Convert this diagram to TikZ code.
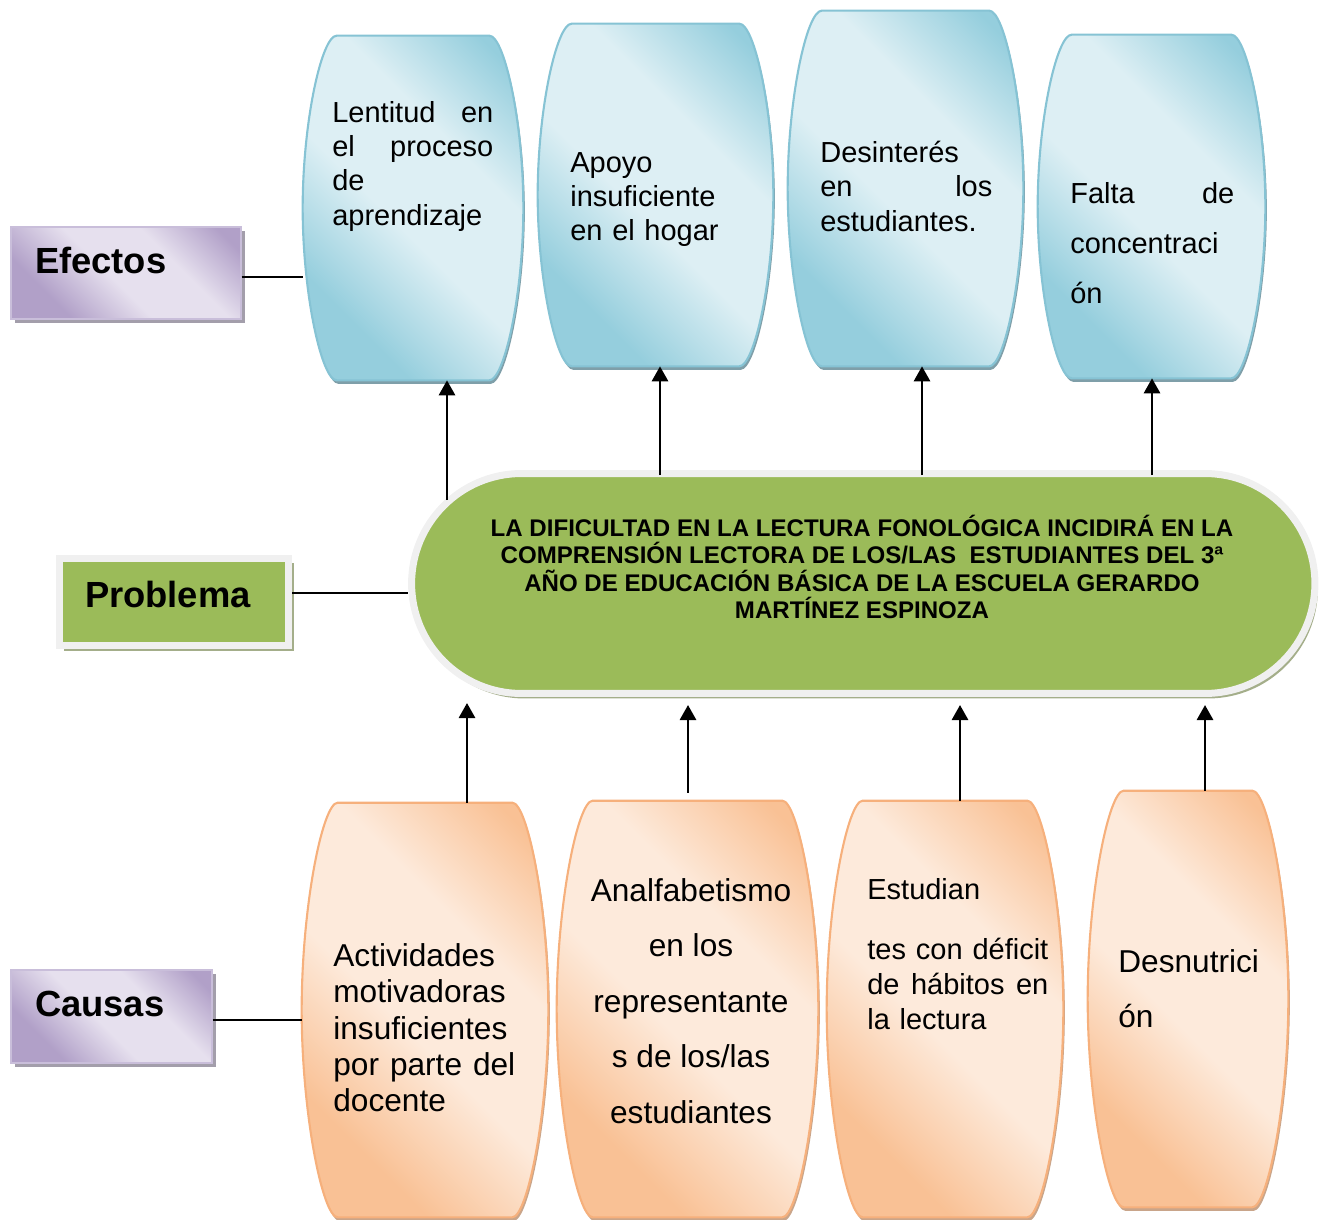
\documentclass[tikz,border=0pt]{standalone}
\usepackage{fontspec}
\setmainfont{Liberation Sans}
\usetikzlibrary{arrows.meta, calc, shadows}
\definecolor{eflight}{HTML}{DDEFF4}
\definecolor{efdark}{HTML}{95CEDD}
\definecolor{efedge}{HTML}{86C3D4}
\definecolor{efshadow}{HTML}{7F9FA9}
\definecolor{calight}{HTML}{FDEADB}
\definecolor{cadark}{HTML}{F9C195}
\definecolor{caedge}{HTML}{F6B07C}
\definecolor{cashadow}{HTML}{C9A58A}
\definecolor{lbllight}{HTML}{E6E0EE}
\definecolor{lbldark}{HTML}{B1A0C8}
\definecolor{lbledge}{HTML}{C9BEDA}
\definecolor{lblshadow}{HTML}{A39EAB}
\definecolor{pbgreen}{HTML}{9BBB59}
\definecolor{pbrim}{HTML}{F0F0F0}
\definecolor{pbshadow}{HTML}{A4AE8A}

\pgfdeclarehorizontalshading{efshade}{100bp}{color(0bp)=(efdark); color(28bp)=(efdark); color(46bp)=(eflight); color(63bp)=(eflight); color(80bp)=(efdark); color(100bp)=(efdark)}
\pgfdeclarehorizontalshading{cashade}{100bp}{color(0bp)=(cadark); color(28bp)=(cadark); color(46bp)=(calight); color(63bp)=(calight); color(80bp)=(cadark); color(100bp)=(cadark)}
\pgfdeclarehorizontalshading{lblshade}{100bp}{color(0bp)=(lbldark); color(28bp)=(lbldark); color(46bp)=(lbllight); color(63bp)=(lbllight); color(80bp)=(lbldark); color(100bp)=(lbldark)}

% barrel outline round an empty node: #1 node, #2 inset of the flat ends, #3 style
\newcommand\barrel[3]{%
  \path[#3] ($(#1.north west)+(#2,0)$) -- ($(#1.north east)+(-#2,0)$)
    .. controls ($(#1.north east)+(-#2+15,0)$) and ($(#1.north east)!0.5!(#1.east)$) .. (#1.east)
    .. controls ($(#1.south east)!0.5!(#1.east)$) and ($(#1.south east)+(-#2+15,0)$) .. ($(#1.south east)+(-#2,0)$)
    -- ($(#1.south west)+(#2,0)$)
    .. controls ($(#1.south west)+(#2-15,0)$) and ($(#1.south west)!0.5!(#1.west)$) .. (#1.west)
    .. controls ($(#1.north west)!0.5!(#1.west)$) and ($(#1.north west)+(#2-15,0)$) .. ($(#1.north west)+(#2,0)$) -- cycle;}

\begin{document}
\begin{tikzpicture}[x=0.02cm, y=-0.02cm,
  box/.style={rectangle, inner sep=0pt},
  efshape/.style={shading=efshade, shading angle=45, draw=efedge, line width=1.2pt, line join=round,
    drop shadow={shadow xshift=0.03cm, shadow yshift=-0.07cm, fill=efshadow, opacity=1}},
  cashape/.style={shading=cashade, shading angle=45, draw=caedge, line width=1.2pt, line join=round,
    drop shadow={shadow xshift=0.03cm, shadow yshift=-0.07cm, fill=cashadow, opacity=1}},
  eftxt/.style={inner sep=0pt, anchor=north west, align=left, font=\fontsize{16.5}{19.5}\selectfont},
  catxt/.style={inner sep=0pt, anchor=north west, align=left, font=\fontsize{18}{20.7}\selectfont},
  lbl/.style={rectangle, shading=lblshade, shading angle=45, draw=lbledge, line width=0.6pt,
    inner xsep=0.48cm, inner ysep=0pt, align=left, font=\fontsize{20.7}{24}\selectfont\bfseries,
    drop shadow={shadow xshift=0.08cm, shadow yshift=-0.08cm, fill=lblshadow, opacity=1}},
  lblgreen/.style={rectangle, fill=pbgreen, draw=pbrim, line width=0.14cm,
    inner xsep=0.52cm, inner ysep=0pt, align=left, font=\fontsize{20.7}{24}\selectfont\bfseries,
    drop shadow={shadow xshift=0.1cm, shadow yshift=-0.1cm, fill=pbshadow, opacity=1}},
  prob/.style={rectangle, rounded corners=2.2cm, fill=pbgreen, draw=pbrim, line width=0.14cm,
    minimum width=18.07cm, minimum height=4.4cm,
    drop shadow={shadow xshift=0.06cm, shadow yshift=-0.1cm, fill=pbshadow, opacity=1}},
  arr/.style={-{Triangle[length=0.3cm, width=0.32cm]}, line width=1.6pt},
  link/.style={line width=1.4pt},
]
\path[use as bounding box] (0,0) rectangle (1327,1219);

% Effects
\node[box, minimum width=4.4cm, minimum height=6.88cm] (e1) at (413,208) {};
\node[box, minimum width=4.7cm, minimum height=6.84cm] (e2) at (655.5,195) {};
\node[box, minimum width=4.7cm, minimum height=7.1cm] (e3) at (905.5,188.5) {};
\node[box, minimum width=4.54cm, minimum height=6.86cm] (e4) at (1151.5,206.5) {};
\foreach \e in {e1,e2,e3,e4} {\barrel{\e}{34}{efshape}}

\node[eftxt, text width=3.22cm] (e1t) at (332,101) {Lentitud \hfill en\\el \hfill proceso\\de\\aprendizaje};
\node[eftxt, text width=3.2cm] (e2t) at (570,152) {Apoyo\\insuficiente\\en el hogar};
\node[eftxt, text width=3.44cm] (e3t) at (820,141) {Desinterés\\en \hfill los\\estudiantes.};
\node[eftxt, text width=3.28cm, font=\fontsize{16.5}{28.4}\selectfont] (e4t) at (1070,182) {Falta \hfill de\\concentraci\\ón};

% Problem
\node[prob] (problem) at (863.25,583.5) {};
\node[align=center, inner sep=0pt, font=\fontsize{13.7}{15.6}\selectfont\bfseries] (probtxt) at (862,567)
  {LA DIFICULTAD EN LA LECTURA FONOLÓGICA INCIDIRÁ EN LA\\
   COMPRENSIÓN LECTORA DE LOS/LAS \ ESTUDIANTES DEL 3ª\\
   AÑO DE EDUCACIÓN BÁSICA DE LA ESCUELA GERARDO\\
   MARTÍNEZ ESPINOZA};

% Causes
\node[box, minimum width=4.92cm, minimum height=8.28cm] (c1) at (425,1010) {};
\node[box, minimum width=5.22cm, minimum height=8.32cm] (c2) at (687.5,1009) {};
\node[box, minimum width=4.72cm, minimum height=8.32cm] (c3) at (945,1009) {};
\node[box, minimum width=4.0cm, minimum height=8.32cm] (c4) at (1188,999) {};
\foreach \c in {c1,c2,c3,c4} {\barrel{\c}{36}{cashape}}

\node[catxt, text width=3.64cm] (c1t) at (333,943) {Actividades\\motivadoras\\insuficientes\\por \hfill parte \hfill del\\docente};
\node[catxt, anchor=north, align=center, font=\fontsize{18}{31.6}\selectfont] (c2t) at (691,878) {Analfabetismo\\en los\\representante\\s de los/las\\estudiantes};
\node[catxt, text width=3.62cm, font=\fontsize{16.5}{19.9}\selectfont] (c3t) at (867,878) {Estudian\\[0.5cm]tes \hfill con \hfill déficit\\de \hfill hábitos \hfill en\\la lectura};
\node[catxt, font=\fontsize{18}{31.3}\selectfont] (c4t) at (1118,949) {Desnutrici\\ón};

% Side labels
\node[lbl, text width=3.64cm, minimum height=1.84cm, text depth=0.52cm] (efectos) at (126,273) {Efectos};
\node[lblgreen, text width=3.56cm, minimum height=1.76cm, text depth=0.32cm] (problema) at (174,602) {Problema};
\node[lbl, text width=3.06cm, minimum height=1.86cm, text depth=0.5cm] (causas) at (111.5,1016.5) {Causas};

% Connections
\draw[link] (efectos.east |- 0,277) -- (e1.west |- 0,277);
\draw[link] (problema.east |- 0,593) -- (problem.west |- 0,593);
\draw[link] (causas.east |- 0,1020) -- (c1.west |- 0,1020);

\coordinate (s1) at (447,500);
\coordinate (s2) at (660,475);
\coordinate (s3) at (922,475);
\coordinate (s4) at (1152,475);
\draw[arr] (s1) -- (s1 |- e1.south);
\draw[arr] (s2) -- (s2 |- e2.south);
\draw[arr] (s3) -- (s3 |- e3.south);
\draw[arr] (s4) -- (s4 |- e4.south);

\coordinate (t1) at (467,703);
\coordinate (t2) at (688,705);
\coordinate (t3) at (960,705);
\coordinate (t4) at (1205,705);
\draw[arr] (t1 |- c1.north) -- (t1);
\draw[arr] ($(t2 |- c2.north)+(0,-8)$) -- (t2);
\draw[arr] (t3 |- c3.north) -- (t3);
\draw[arr] (t4 |- c4.north) -- (t4);

\end{tikzpicture}
\end{document}
